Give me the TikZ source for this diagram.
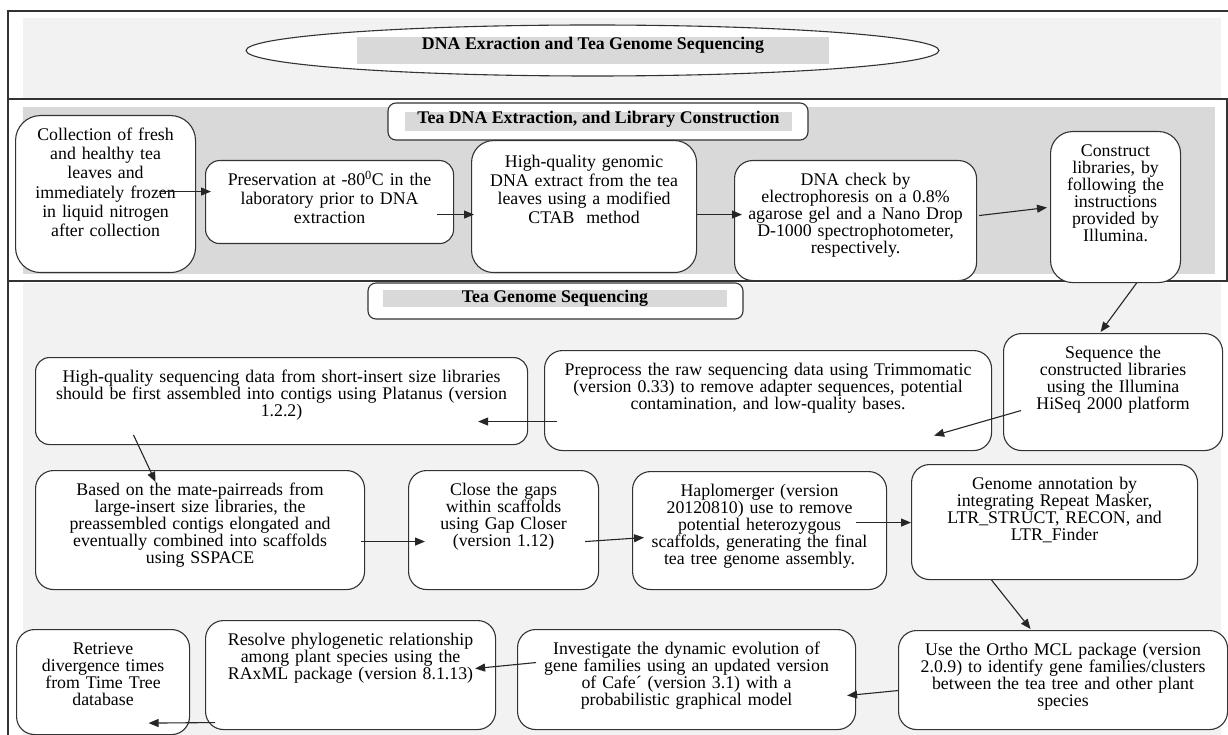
\documentclass[tikz,border=0pt]{standalone}
\usepackage{fontspec}
\setmainfont{Liberation Serif}
\usetikzlibrary{shapes.geometric,arrows.meta,calc}
\definecolor{paleband}{gray}{0.95}
\definecolor{barfill}{gray}{0.85}

\begin{document}
\begin{tikzpicture}[x=1pt,y=-1pt,
		stepbox/.style={draw=black!80,line width=1.1pt,fill=white,rounded corners=18pt,anchor=north west,inner sep=0pt,align=center,text height=25pt,font=\fontsize{17.8}{17}\selectfont},
		headbox/.style={draw=black!80,line width=1.1pt,fill=white,rounded corners=8pt,inner sep=0pt},
		headbar/.style={fill=barfill,inner sep=0pt,font=\fontsize{17.8}{17}\selectfont\bfseries},
		flow/.style={-{Triangle[length=10pt,width=8pt]},line width=1.1pt,draw=black!85}]
		\useasboundingbox (0,0) rectangle (1228,735);
		% Bandes de fond
		\fill[paleband] (23,18) rectangle (1221,99);
		\fill[barfill] (23,107) rectangle (1215,274);
		\fill[paleband] (23,283) rectangle (1221,735);
		\draw[line width=1.2pt,black!80] (8,735) -- (8,11) -- (1228,11);
		\draw[line width=1.2pt,black!80] (8,99) -- (1227,99) -- (1227,281) -- (8,281);
		
		% Titres
		\node[ellipse,draw=black!80,line width=1.1pt,fill=white,minimum width=693pt,minimum height=51pt,inner sep=0pt] (oval) at (592.5,50.5) {};
		\node[headbar,minimum width=472pt,text height=13pt,text depth=14pt] (maintitle) at (593,50.5) {DNA Exraction and Tea Genome Sequencing};
		\node[headbox,minimum width=420pt,minimum height=37pt] (libhead) at (598,121.5) {};
		\node[headbar,minimum width=387pt,text height=11.5pt,text depth=7.5pt] (libtitle) at (598.5,121.5) {Tea DNA Extraction, and Library Construction};
		\node[headbox,minimum width=375pt,minimum height=36pt] (seqhead) at (555.5,301) {};
		\node[headbar,minimum width=344pt,text height=12pt,text depth=5pt] (seqtitle) at (555,298.5) {Tea Genome Sequencing};
		
		% Extraction et banques
		\node[stepbox,rounded corners=25pt,text width=180pt,text depth=132pt,font=\fontsize{17.8}{19.2}\selectfont] (collect) at (15,115) {Collection of fresh\\ and healthy tea\\ leaves and\\ immediately frozen\\ in liquid nitrogen\\ after collection};
		\node[stepbox,rounded corners=14pt,text width=248pt,text depth=58pt,font=\fontsize{17.8}{19.2}\selectfont] (preserve) at (205,160) {Preservation at -80\textsuperscript{0}C in the\\ laboratory prior to DNA\\ extraction};
		\node[stepbox,rounded corners=22pt,text width=225pt,text height=27pt,text depth=105pt,font=\fontsize{17.8}{18.5}\selectfont] (extract) at (471,140) {High-quality genomic\\ DNA extract from the tea\\ leaves using a modified\\ CTAB\ \ method};
		\node[stepbox,text width=242pt,text depth=95pt] (check) at (734,160) {DNA check by\\ electrophoresis on a 0.8\%\\ agarose gel and a Nano Drop\\ D-1000 spectrophotometer,\\ respectively.};
		\node[stepbox,rounded corners=22pt,text width=130pt,text depth=126pt] (construct) at (1050,131) {Construct\\ libraries, by\\ following the\\ instructions\\ provided by\\ Illumina.};
		
		% Sequencage
		\node[stepbox,text width=219pt,text depth=92pt] (sequence) at (1003,333) {Sequence the\\ constructed libraries\\ using the Illumina\\ HiSeq 2000 platform};
		\node[stepbox,text width=447pt,text depth=75pt] (trim) at (544,350) {Preprocess the raw sequencing data using Trimmomatic\\ (version 0.33) to remove adapter sequences, potential\\ contamination, and low-quality bases.};
		\node[stepbox,rounded corners=14pt,text width=492pt,text depth=62pt] (contig) at (35,357) {High-quality sequencing data from short-insert size libraries\\ should be first assembled into contigs using Platanus (version\\ 1.2.2)};
		\node[stepbox,text width=329pt,text depth=94pt] (scaffold) at (35,470) {Based on the mate-pairreads from\\ large-insert size libraries, the\\ preassembled contigs elongated and\\ eventually combined into scaffolds\\ using SSPACE};
		\node[stepbox,text width=190pt,text depth=94pt] (gapclose) at (408,470) {Close the gaps\\ within scaffolds\\ using Gap Closer\\ (version 1.12)};
		\node[stepbox,text width=254pt,text depth=93pt] (haplo) at (632,471) {Haplomerger (version\\ 20120810) use to remove\\ potential heterozygous\\ scaffolds, generating the final\\ tea tree genome assembly.};
		\node[stepbox,text width=286pt,text depth=90pt] (annotate) at (911,464) {Genome annotation by\\ integrating Repeat Masker,\\ LTR\_STRUCT, RECON, and\\ LTR\_Finder};
		\node[stepbox,text width=329pt,text depth=74pt] (ortho) at (898,630) {Use the Ortho MCL package (version\\ 2.0.9) to identify gene families/clusters\\ between the tea tree and other plant\\ species};
		\node[stepbox,text width=338pt,text depth=75pt] (cafe) at (517,629) {Investigate the dynamic evolution of\\ gene families using an updated version\\ of Cafe´ (version 3.1) with a\\ probabilistic graphical model};
		\node[stepbox,text width=290pt,text depth=84pt] (raxml) at (205,620) {Resolve phylogenetic relationship\\ among plant species using the\\ RAxML package (version 8.1.13)};
		\node[stepbox,text width=173pt,text depth=80pt] (timetree) at (16,629) {Retrieve\\ divergence times\\ from Time Tree\\ database};
		
		% Fleches
		\draw[flow] ($(collect.east)+(-37,-2.5)$) -- ($(preserve.west)+(6,-10.5)$);
		\draw[flow] ($(preserve.east)+(-17,12.5)$) -- ($(extract.west)+(3,8)$);
		\draw[flow] ($(extract.east)+(0,8)$) -- ($(check.west)+(8,-6)$);
		\draw[flow] ($(check.east)+(2,-5)$) -- ($(construct.west)+(-3,0.5)$);
		\draw[flow] ($(construct.south)+(21,0)$) -- ($(sequence.north)+(-12.5,-1)$);
		\draw[flow] ($(sequence.west)+(18,18.5)$) -- ($(trim.east)+(-58,35)$);
		\draw[flow] ($(trim.west)+(13,21)$) -- ($(contig.east)+(-50,20.5)$);
		\draw[flow] ($(contig.south)+(-148,-10)$) -- ($(scaffold.north)+(-44.5,12)$);
		\draw[flow] ($(scaffold.east)+(-4,11.5)$) -- ($(gapclose.west)+(17,11.5)$);
		\draw[flow] ($(gapclose.east)+(-14,11.5)$) -- ($(haplo.west)+(12,7)$);
		\draw[flow] ($(haplo.east)+(-31,-8)$) -- ($(annotate.west)+(0,0.5)$);
		\draw[flow] ($(annotate.south)+(-63,0)$) -- ($(ortho.north)+(-32.5,-1)$);
		\draw[flow] ($(ortho.west)+(0,10.5)$) -- ($(cafe.east)+(-9,16)$);
		\draw[flow] ($(cafe.west)+(19,-17)$) -- ($(raxml.east)+(-21,-6.5)$);
		\draw[flow] ($(raxml.west)+(10,47.5)$) -- ($(timetree.south)+(45.5,-12)$);
	\end{tikzpicture}
\end{document}
